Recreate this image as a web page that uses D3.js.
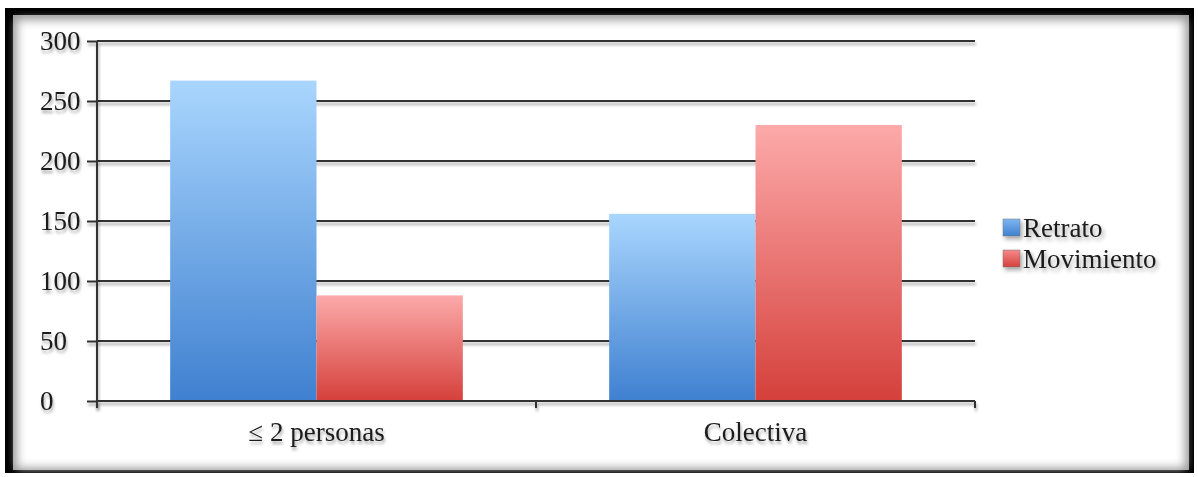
<!DOCTYPE html>
<html><head><meta charset="utf-8">
<script src="https://cdn.jsdelivr.net/npm/d3@7"></script>
<style>html,body{margin:0;padding:0;background:#fff;}svg{display:block;}</style>
</head><body>
<svg id="c" width="1198" height="477"></svg>
<script>
const categories = ["≤ 2 personas", "Colectiva"];
const seriesNames = ["Retrato", "Movimiento"];
const retrato = [267, 156];
const movimiento = [88, 230];
const yTicks = [0, 50, 100, 150, 200, 250, 300];

(function(){
const svg = d3.select("#c");
const defs = svg.append("defs");
const fontFam = "'Liberation Serif', 'DejaVu Serif', serif";
const fSize = 27;

const sh = defs.append("filter").attr("id","sh").attr("x","-20%").attr("y","-20%").attr("width","140%").attr("height","160%");
sh.append("feDropShadow").attr("dx",2).attr("dy",3).attr("stdDeviation",2).attr("flood-color","#000").attr("flood-opacity",0.35);
const shl = defs.append("filter").attr("id","shl").attr("filterUnits","userSpaceOnUse").attr("x",-300).attr("y",-50).attr("width",1600).attr("height",600);
shl.append("feDropShadow").attr("dx",1).attr("dy",3).attr("stdDeviation",1.5).attr("flood-color","#000").attr("flood-opacity",0.35);

function grad(id, c1, c2){
  const g = defs.append("linearGradient").attr("id",id).attr("x1",0).attr("y1",0).attr("x2",0).attr("y2",1);
  g.append("stop").attr("offset","0%").attr("stop-color",c1);
  g.append("stop").attr("offset","100%").attr("stop-color",c2);
}
grad("gBlue","#a9d6fe","#3f80d0");
grad("gRed","#fcaaaa","#d5403b");
grad("lBlue","#7fb6f0","#3f80d0");
grad("lRed","#f48a8a","#d5403b");
const fills = ["url(#gBlue)","url(#gRed)"];
const legendFills = ["url(#lBlue)","url(#lRed)"];

const fs = defs.append("filter").attr("id","inner").attr("x","-5%").attr("y","-5%").attr("width","110%").attr("height","110%");
fs.append("feGaussianBlur").attr("stdDeviation",5);

svg.append("rect").attr("x",0).attr("y",0).attr("width",1198).attr("height",477).attr("fill","#fff");
svg.append("rect").attr("x",5).attr("y",8).attr("width",1189).attr("height",465).attr("fill","#000");
svg.append("rect").attr("x",13).attr("y",15).attr("width",1176).attr("height",455).attr("fill","#9a9a9a");
svg.append("rect").attr("x",17).attr("y",20).attr("width",1168).attr("height",448).attr("fill","#fff").attr("filter","url(#inner)");

const pL = 97, pR = 975, pT = 41, pB = 401;
const x0 = d3.scaleBand().domain(categories).range([pL, pR]).paddingInner(0).paddingOuter(0);
const x1 = d3.scaleBand().domain(seriesNames).range([0, x0.bandwidth()]).paddingInner(0).paddingOuter(0.5);
const y = d3.scaleLinear().domain([0, 300]).range([pB, pT]);

const grid = svg.append("g").attr("filter","url(#shl)");
grid.selectAll("line").data(yTicks.filter(d=>d>0)).join("line")
  .attr("x1", pL).attr("x2", pR).attr("y1", d=>y(d)).attr("y2", d=>y(d))
  .attr("stroke","#333").attr("stroke-width",2);

const data = categories.map((c,i)=>({c, vals:[retrato[i], movimiento[i]]}));
const bars = svg.append("g");
data.forEach(d=>{
  d.vals.forEach((v,j)=>{
    bars.append("rect")
      .attr("x", x0(d.c) + x1(seriesNames[j]))
      .attr("y", y(v))
      .attr("width", x1.bandwidth())
      .attr("height", pB - y(v))
      .attr("fill", fills[j]);
  });
});

const yAxis = d3.axisLeft(y).tickValues(yTicks).tickSize(10).tickPadding(6);
const gy = svg.append("g").attr("transform",`translate(${pL},0)`).attr("filter","url(#shl)").call(yAxis);
gy.select(".domain").attr("stroke","#333").attr("stroke-width",2).attr("d",`M0,${pT}V${pB+6}`);
gy.selectAll(".tick line").attr("stroke","#333").attr("stroke-width",2);
gy.selectAll(".tick text").attr("font-family",fontFam).attr("font-size",fSize).attr("fill","#1a1a1a")
  .attr("dy","0.32em").attr("text-anchor","start").attr("x", 40 - pL);

const gx = svg.append("g").attr("filter","url(#shl)");
gx.append("line").attr("x1",pL).attr("x2",pR).attr("y1",pB).attr("y2",pB).attr("stroke","#333").attr("stroke-width",2);
const bounds = categories.map(c=>x0(c)).concat([pR]);
gx.selectAll("line.t").data(bounds).join("line").attr("class","t")
  .attr("x1",d=>d).attr("x2",d=>d).attr("y1",pB).attr("y2",pB+7)
  .attr("stroke","#333").attr("stroke-width",2);
gx.selectAll("text").data(categories).join("text")
  .attr("x", d=>x0(d)+x0.bandwidth()/2).attr("y", 441)
  .attr("text-anchor","middle").attr("font-family",fontFam).attr("font-size",fSize).attr("fill","#1a1a1a")
  .text(d=>d);

const lg = svg.append("g").attr("filter","url(#sh)");
seriesNames.forEach((s,i)=>{
  const yy = 219 + i*31;
  lg.append("rect").attr("x",1003).attr("y",yy).attr("width",17).attr("height",17).attr("fill",legendFills[i]).attr("stroke","#777").attr("stroke-width",0.5);
  lg.append("text").attr("x",1023).attr("y",yy+18).attr("font-family",fontFam).attr("font-size",fSize).attr("fill","#1a1a1a").text(s);
});
})();
</script>
</body></html>
